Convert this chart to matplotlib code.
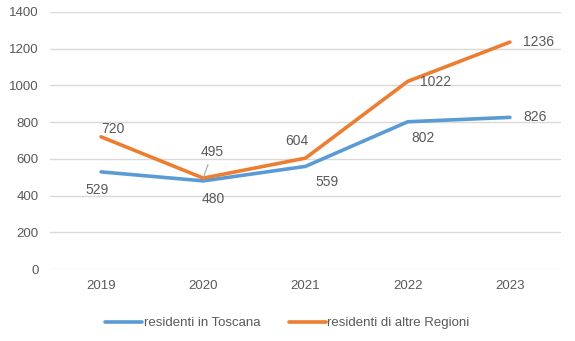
import matplotlib.pyplot as plt

plt.rcParams['font.family'] = ['Liberation Sans', 'DejaVu Sans']

years = ['2019', '2020', '2021', '2022', '2023']
toscana = [529, 480, 559, 802, 826]
altre_regioni = [720, 495, 604, 1022, 1236]
y_ticks = [0, 200, 400, 600, 800, 1000, 1200, 1400]

# label offsets in pixels (dx, dy) relative to each point
off_toscana = [(-4, -18), (10, -18), (21, -16), (15, -16), (25, 0)]
off_altre = [(12, 8), (9, 26), (-9, 17), (28, -1), (29, 0)]

blue = '#5B9BD5'
orange = '#ED7D31'
txt = '#595959'

fig = plt.figure(figsize=(5.75, 3.41), dpi=100)
ax = fig.add_axes([50 / 575, 1 - 269 / 341, 511 / 575, 257 / 341])

x = range(len(years))
ax.plot(x, toscana, color=blue, lw=2.6, solid_capstyle='round', label='residenti in Toscana', zorder=3)
ax.plot(x, altre_regioni, color=orange, lw=2.6, solid_capstyle='round', label='residenti di altre Regioni', zorder=3)

for i, (v, o) in enumerate(zip(toscana, off_toscana)):
    ax.annotate(str(v), (i, v), xytext=o, textcoords='offset pixels',
                ha='center', va='center', fontsize=10, color=txt)
for i, (v, o) in enumerate(zip(altre_regioni, off_altre)):
    arrow = None
    if i == 1:
        # leader line for the label pushed away from the point
        arrow = dict(arrowstyle='-', color='#A6A6A6', lw=0.8, shrinkA=2, shrinkB=0)
    ax.annotate(str(v), (i, v), xytext=o, textcoords='offset pixels',
                ha='center', va='center', fontsize=10, color=txt, arrowprops=arrow)

ax.set_xlim(-0.5, len(years) - 0.5)
ax.set_ylim(0, 1400)
ax.set_yticks(y_ticks)
ax.set_xticks(list(x))
ax.set_xticklabels(years)
ax.grid(axis='y', color='#D9D9D9', lw=1)
ax.set_axisbelow(True)
for s in ax.spines.values():
    s.set_visible(False)
ax.tick_params(length=0, labelsize=9.5, labelcolor=txt, pad=8)

fig.legend(loc='lower center', bbox_to_anchor=(0.5, 0.0), ncol=2, frameon=False,
           fontsize=9.5, labelcolor=txt, handlelength=2.8, handletextpad=0.1, columnspacing=2.2)

fig.savefig('out.png', dpi=100)
